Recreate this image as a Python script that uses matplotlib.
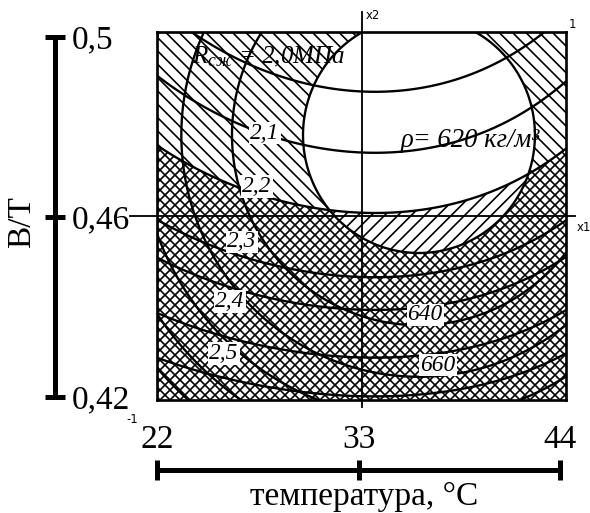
import numpy as np
import matplotlib.pyplot as plt

plt.rcParams['font.family'] = ['Liberation Serif', 'DejaVu Serif']
plt.rcParams['mathtext.fontset'] = 'custom'
plt.rcParams['mathtext.rm'] = 'Liberation Serif'
plt.rcParams['mathtext.it'] = 'Liberation Serif:italic'
plt.rcParams['hatch.linewidth'] = 1.0
plt.rcParams['hatch.color'] = 'black'

# натуральные шкалы
temp_ticks = [22, 33, 44]
bt_ticks = [0.42, 0.46, 0.5]
bt_labels = ['0,42', '0,46', '0,5']

# прочность R(x1, x2), концентрические эллипсы
r_center = (0.281, 0.44)
r_radius = (0.567, 0.641)
r_base = 2.0
r_step = 0.0625
r_levels = [2.0, 2.1, 2.2, 2.3, 2.4, 2.5]
r_labels = ['2,1', '2,2', '2,3', '2,4', '2,5']

# плотность rho(x1, x2)
rho_a, rho_b, rho_k = 617.1, 6.66, 2.42
rho_q0, rho_q1, rho_c, rho_m = 0.32, 0.12, 0.04, 0.066
rho_levels = [618.4, 620, 623.5, 632, 640, 660, 688.5]
rho_limit = 623.5
rho_labels = ['ρ= 620 кг/м³', '640', '660']

# положения подписей (кодированные координаты)
r_label_pos = [(-0.472, 0.451), (-0.511, 0.158), (-0.584, -0.141),
               (-0.643, -0.467), (-0.672, -0.745)]
rho_label_pos = [(0.531, 0.413), (0.311, -0.538), (0.374, -0.810)]

x1 = np.linspace(-1, 1, 600)
x2 = np.linspace(-1, 1, 600)
X1, X2 = np.meshgrid(x1, x2)

U = (X1 - r_center[0]) / r_radius[0]
V = (X2 - r_center[1]) / r_radius[1]
R = r_base + r_step * (U**2 + V**2 - 1)

D = X1 - rho_m
S = X2 - (rho_q0 + rho_q1 * X2 + rho_c * D) * D**2
RHO = rho_a + rho_b * np.exp(-rho_k * S)

# зоны: только R, только rho, оба ограничения
dr = (R - r_base) / r_step
dp = (RHO - rho_limit) / 3.0
zone_r = np.minimum(dr, -dp)
zone_p = np.minimum(-dr, dp)
zone_rp = np.minimum(dr, dp)

fig = plt.figure(figsize=(590 / 120, 513 / 120), dpi=120)
ax = fig.add_axes([157 / 590, 1 - 400 / 513, 409 / 590, 368 / 513])

for zone, h in [(zone_r, '\\\\\\'), (zone_p, '///'), (zone_rp, 'xxxx')]:
    ax.contourf(X1, X2, zone, levels=[0, zone.max() + 1], colors='none',
                hatches=[h], zorder=1)
ax.contour(X1, X2, R, levels=r_levels, colors='k', linewidths=1.4, zorder=2)
ax.contour(X1, X2, RHO, levels=rho_levels, colors='k', linewidths=1.4, zorder=2)

# оси x1, x2 через центр плана
ax.plot([0, 0], [-1.04, 1.11], color='k', lw=1.1, clip_on=False, zorder=3)
ax.plot([-1.13, 1.044], [0, 0], color='k', lw=1.1, clip_on=False, zorder=3)

ax.set_xlim(-1, 1)
ax.set_ylim(-1, 1)
ax.set_xticks([])
ax.set_yticks([])
for sp in ax.spines.values():
    sp.set_linewidth(1.6)

box = dict(facecolor='white', edgecolor='none', pad=0.5)
ax.text(-0.829, 0.864, r'$R_{сж}$ = 2,0МПа', fontsize=15, style='italic',
        ha='left', va='center', zorder=4)
for lab, (px, py) in zip(r_labels, r_label_pos):
    ax.text(px, py, lab, fontsize=14, style='italic', ha='center', va='center',
            bbox=box, zorder=4)
for i, (lab, (px, py)) in enumerate(zip(rho_labels, rho_label_pos)):
    ax.text(px, py, lab, fontsize=16 if i == 0 else 14, style='italic',
            ha='center', va='center', bbox=None if i == 0 else box, zorder=4)

small = dict(fontsize=7, family='DejaVu Sans')
ax.text(0.02, 1.09, 'x2', ha='left', va='center', **small)
ax.text(1.014, 1.04, '1', ha='left', va='center', **small)
ax.text(1.05, -0.065, 'x1', ha='left', va='center', **small)
ax.text(-1.12, -1.105, '-1', ha='center', va='center', **small)

# шкала В/Т
ax_l = fig.add_axes([45 / 590, 1 - 397 / 513, 20 / 590, 360 / 513])
ax_l.set_xlim(-1, 1)
ax_l.set_ylim(min(bt_ticks), max(bt_ticks))
ax_l.axis('off')
ax_l.plot([0, 0], [min(bt_ticks), max(bt_ticks)], color='k', lw=3,
          solid_capstyle='butt', clip_on=False)
ax_l.plot([0] * len(bt_ticks), bt_ticks, ls='none', marker='_', ms=12,
          mew=3, color='k', clip_on=False)
for b, lab in zip(bt_ticks, bt_labels):
    ax_l.text(1.7, b, lab, fontsize=20, ha='left', va='center_baseline')
fig.text(22 / 590, 1 - 222 / 513, 'В/Т', rotation=90, fontsize=20,
         ha='center', va='center')

# шкала температуры
ax_b = fig.add_axes([157 / 590, 1 - 482 / 513, 403 / 590, 25 / 513])
ax_b.set_xlim(min(temp_ticks), max(temp_ticks))
ax_b.set_ylim(-1, 1)
ax_b.axis('off')
ax_b.plot([min(temp_ticks), max(temp_ticks)], [0, 0], color='k', lw=3,
          solid_capstyle='butt', clip_on=False)
ax_b.plot(temp_ticks, [0] * len(temp_ticks), ls='none', marker='|', ms=12,
          mew=3, color='k', clip_on=False)
for t in temp_ticks:
    ax_b.text(t, 2.36, str(t), fontsize=20, ha='center', va='center')
ax_b.text(33.3, -2.2, 'температура, °C', fontsize=20, ha='center', va='center')

fig.savefig('out.png', dpi=120)
